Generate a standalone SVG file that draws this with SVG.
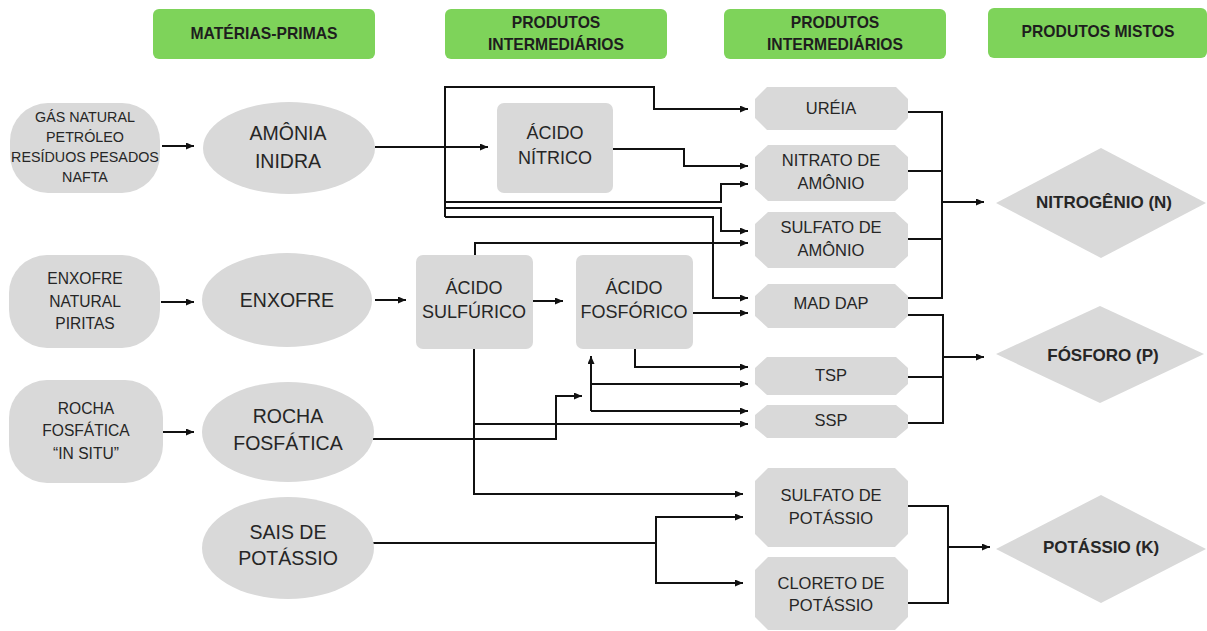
<svg xmlns="http://www.w3.org/2000/svg" width="1207" height="631" viewBox="0 0 1207 631">
<defs>
<marker id="ah" markerWidth="9" markerHeight="8" refX="8" refY="3.5" orient="auto" markerUnits="userSpaceOnUse">
<path d="M0,0 L8,3.5 L0,7 z" fill="#111"/>
</marker>
<style>
.hdr{fill:#7ed35a}
.hdrt{font-family:"Liberation Sans",Arial,sans-serif;font-weight:bold;font-size:15.7px;fill:#1e1e1e;text-anchor:middle;dominant-baseline:central}
.nd{fill:#d9d9d9}
.t{font-family:"Liberation Sans",Arial,sans-serif;fill:#262626;text-anchor:middle;dominant-baseline:central}
.s14{font-size:14.3px}
.s15{font-size:15.6px}
.s19{font-size:19.5px}
.s18{font-size:18px}
.s16{font-size:16.5px}
.b17{font-size:17px;font-weight:bold}
.c{fill:none;stroke:#111;stroke-width:2}
.a{marker-end:url(#ah)}
</style>
</defs>
<rect width="1207" height="631" fill="#fff"/>

<g id="headers">
<g id="h1"><rect class="hdr" x="153" y="9" width="222" height="50" rx="6"/><text class="hdrt" x="264" y="33">MATÉRIAS-PRIMAS</text></g>
<g id="h2"><rect class="hdr" x="445" y="9" width="222" height="50" rx="6"/><text class="hdrt" x="556" y="22">PRODUTOS</text><text class="hdrt" x="556" y="44">INTERMEDIÁRIOS</text></g>
<g id="h3"><rect class="hdr" x="724" y="9" width="222" height="50" rx="6"/><text class="hdrt" x="835" y="22">PRODUTOS</text><text class="hdrt" x="835" y="44">INTERMEDIÁRIOS</text></g>
<g id="h4"><rect class="hdr" x="988" y="8" width="219" height="50" rx="6"/><text class="hdrt" x="1098" y="31">PRODUTOS MISTOS</text></g>
</g>

<g id="connectors">
<path class="c a" d="M162,146 H194"/>
<path class="c a" d="M161,302 H194"/>
<path class="c a" d="M163,432 H194"/>
<path class="c a" d="M375,147 H488"/>
<path class="c a" d="M445,147 V87 H654 V109 H748"/>
<path class="c" d="M445,147 V217"/>
<path class="c a" d="M445,202 H721 V184 H748"/>
<path class="c a" d="M445,208 H721 V231 H748"/>
<path class="c a" d="M445,217 H713 V298 H748"/>
<path class="c a" d="M613,149 H684 V166 H748"/>
<path class="c a" d="M475,255 V243 H748"/>
<path class="c a" d="M375,300 H406"/>
<path class="c a" d="M533,301 H563"/>
<path class="c a" d="M693,313 H748"/>
<path class="c a" d="M635,349 V367 H748"/>
<path class="c a" d="M591,411 V356"/>
<path class="c a" d="M591,384 H748"/>
<path class="c a" d="M591,411 H748"/>
<path class="c a" d="M373,439 H556 V396 H582"/>
<path class="c a" d="M474,349 V494 H743"/>
<path class="c a" d="M474,424 H748"/>
<path class="c" d="M373,543 H656"/>
<path class="c a" d="M656,543 V517 H743"/>
<path class="c a" d="M656,543 V583 H743"/>
<path class="c" d="M908,112 H942 V298 H908 M908,171 H942 M908,239 H942"/>
<path class="c a" d="M942,202 H984"/>
<path class="c" d="M908,315 H943 V423 H908 M908,377 H943"/>
<path class="c a" d="M943,357 H984"/>
<path class="c" d="M908,506 H948 V603 H908"/>
<path class="c a" d="M948,547 H990"/>
</g>

<g id="n-gas"><rect class="nd" x="10" y="103" width="150" height="90" rx="38"/>
<text class="t s14" x="85" y="117">GÁS NATURAL</text><text class="t s14" x="85" y="137">PETRÓLEO</text><text class="t s14" x="85" y="157">RESÍDUOS PESADOS</text><text class="t s14" x="85" y="177">NAFTA</text></g>
<g id="n-enxnat"><rect class="nd" x="9" y="255" width="151" height="93" rx="38"/>
<text class="t s15" x="85" y="278">ENXOFRE</text><text class="t s15" x="85" y="301">NATURAL</text><text class="t s15" x="85" y="323">PIRITAS</text></g>
<g id="n-rochasitu"><rect class="nd" x="9" y="380" width="154" height="103" rx="38"/>
<text class="t s15" x="86" y="408">ROCHA</text><text class="t s15" x="86" y="430">FOSFÁTICA</text><text class="t s15" x="86" y="453">“IN SITU”</text></g>

<g id="n-amonia"><ellipse class="nd" cx="289" cy="148" rx="86" ry="46"/>
<text class="t s19" x="288" y="133">AMÔNIA</text><text class="t s19" x="288" y="161">INIDRA</text></g>
<g id="n-enxofre"><ellipse class="nd" cx="287" cy="300" rx="85" ry="47"/>
<text class="t s19" x="287" y="300">ENXOFRE</text></g>
<g id="n-rocha"><ellipse class="nd" cx="288" cy="432" rx="86" ry="50"/>
<text class="t s19" x="288" y="416">ROCHA</text><text class="t s19" x="288" y="443">FOSFÁTICA</text></g>
<g id="n-sais"><ellipse class="nd" cx="288" cy="548" rx="86" ry="51"/>
<text class="t s19" x="288" y="532">SAIS DE</text><text class="t s19" x="288" y="558">POTÁSSIO</text></g>

<g id="n-nitrico"><rect class="nd" x="497" y="103" width="116" height="90" rx="7"/>
<text class="t s18" x="555" y="133">ÁCIDO</text><text class="t s18" x="555" y="158">NÍTRICO</text></g>
<g id="n-sulfurico"><rect class="nd" x="416" y="255" width="117" height="94" rx="7"/>
<text class="t s18" x="474" y="288">ÁCIDO</text><text class="t s18" x="474" y="312">SULFÚRICO</text></g>
<g id="n-fosforico"><rect class="nd" x="576" y="255" width="117" height="94" rx="7"/>
<text class="t s18" x="634" y="288">ÁCIDO</text><text class="t s18" x="634" y="312">FOSFÓRICO</text></g>

<g id="n-ureia"><polygon class="nd" points="767,87 896,87 908,99 908,118 896,130 767,130 755,118 755,99"/>
<text class="t s16" x="831" y="108">URÉIA</text></g>
<g id="n-nitrato"><polygon class="nd" points="768,145 895,145 908,157 908,189 895,201 768,201 755,189 755,157"/>
<text class="t s16" x="831" y="160">NITRATO DE</text><text class="t s16" x="831" y="183">AMÔNIO</text></g>
<g id="n-sulfam"><polygon class="nd" points="768,212 895,212 908,224 908,256 895,268 768,268 755,256 755,224"/>
<text class="t s16" x="831" y="227">SULFATO DE</text><text class="t s16" x="831" y="250">AMÔNIO</text></g>
<g id="n-mad"><polygon class="nd" points="768,284 895,284 908,296 908,316 895,328 768,328 755,316 755,296"/>
<text class="t s16" x="831" y="303">MAD DAP</text></g>
<g id="n-tsp"><polygon class="nd" points="767,357 896,357 908,368 908,384 896,395 767,395 755,384 755,368"/>
<text class="t s16" x="831" y="375">TSP</text></g>
<g id="n-ssp"><polygon class="nd" points="767,405 896,405 908,415 908,428 896,438 767,438 755,428 755,415"/>
<text class="t s16" x="831" y="420">SSP</text></g>
<g id="n-sulfpot"><polygon class="nd" points="768,468 895,468 908,481 908,534 895,547 768,547 755,534 755,481"/>
<text class="t s16" x="831" y="495">SULFATO DE</text><text class="t s16" x="831" y="518">POTÁSSIO</text></g>
<g id="n-cloreto"><polygon class="nd" points="768,557 895,557 908,570 908,617 895,630 768,630 755,617 755,570"/>
<text class="t s16" x="831" y="583">CLORETO DE</text><text class="t s16" x="831" y="605">POTÁSSIO</text></g>

<g id="n-N"><polygon class="nd" points="996,203 1101,148 1206,203 1101,258"/>
<text class="t b17" x="1104" y="202">NITROGÊNIO (N)</text></g>
<g id="n-P"><polygon class="nd" points="996,354 1100,306 1204,354 1100,403"/>
<text class="t b17" x="1103" y="355">FÓSFORO (P)</text></g>
<g id="n-K"><polygon class="nd" points="996,549 1101,495 1206,549 1101,603"/>
<text class="t b17" x="1101" y="547">POTÁSSIO (K)</text></g>
</svg>
